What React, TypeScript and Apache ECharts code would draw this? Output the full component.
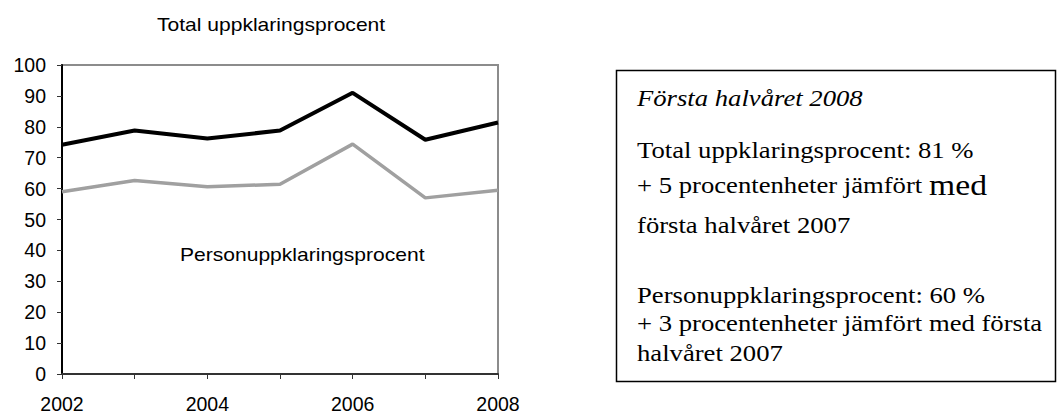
import React, { useEffect, useRef } from "react";
import * as echarts from "echarts";

const years = ["2002", "2003", "2004", "2005", "2006", "2007", "2008"];
const totalValues = [74.2, 78.8, 76.2, 78.8, 91, 75.8, 81.4];
const personValues = [59, 62.6, 60.6, 61.4, 74.4, 57, 59.5];
const chartTitle = "Total uppklaringsprocent";
const innerLabel = "Personuppklaringsprocent";
const boxHeading = "Första halvåret 2008";
const boxLines = [
  "Total uppklaringsprocent: 81 %",
  "första halvåret 2007",
  "Personuppklaringsprocent: 60 %",
  "+ 3 procentenheter jämfört med första",
  "halvåret 2007",
];

export default function App() {
  const ref = useRef<HTMLDivElement>(null);
  useEffect(() => {
    document.body.style.margin = "0";
    const chart = echarts.init(ref.current!, null, { renderer: "svg" });
    const serif = "Liberation Serif";
    const sans = "Liberation Sans";
    const sx = 1.16;
    const serifText = (text: string, y: number, extra: any = {}) => ({
      type: "text",
      x: 637,
      y,
      scaleX: sx,
      style: {
        text,
        fontFamily: serif,
        fontSize: 23,
        fill: "#000",
        textVerticalAlign: "middle",
        ...extra,
      },
    });
    chart.setOption({
      animation: false,
      grid: {
        left: 62,
        top: 65,
        width: 436,
        height: 310,
        show: true,
        borderColor: "#8c8c8c",
        borderWidth: 2,
      },
      xAxis: {
        type: "category",
        data: years,
        boundaryGap: false,
        axisLine: { lineStyle: { color: "#333", width: 2 } },
        axisTick: { show: true, inside: false, length: 5, lineStyle: { color: "#333" }, interval: 0 },
        axisLabel: { interval: 1, color: "#000", fontFamily: sans, fontSize: 19.5, margin: 20 },
        splitLine: { show: false },
      },
      yAxis: {
        type: "value",
        min: 0,
        max: 100,
        interval: 10,
        axisLine: { show: true, lineStyle: { color: "#000", width: 2 } },
        axisTick: { show: true, length: 5, lineStyle: { color: "#333" } },
        axisLabel: { color: "#000", fontFamily: sans, fontSize: 19.5, margin: 16 },
        splitLine: { show: false },
      },
      series: [
        {
          type: "line",
          data: totalValues,
          symbol: "none",
          lineStyle: { color: "#000", width: 4 },
        },
        {
          type: "line",
          data: personValues,
          symbol: "none",
          lineStyle: { color: "#a0a0a0", width: 3.5 },
        },
      ],
      graphic: [
        {
          type: "text",
          x: 157,
          y: 25,
          scaleX: 1.17,
          style: { text: chartTitle, fontFamily: sans, fontSize: 18, fill: "#000", textVerticalAlign: "middle" },
        },
        {
          type: "text",
          x: 180,
          y: 255,
          scaleX: 1.17,
          style: { text: innerLabel, fontFamily: sans, fontSize: 18, fill: "#000", textVerticalAlign: "middle" },
        },
        {
          type: "rect",
          shape: { x: 616.5, y: 70.5, width: 439, height: 311 },
          style: { fill: "#fff", stroke: "#000", lineWidth: 1.5 },
        },
        serifText(boxHeading, 98, { fontStyle: "italic" }),
        serifText(boxLines[0], 150),
        serifText("+ 5 procentenheter jämfört {big|med}", 185, {
          rich: { big: { fontFamily: serif, fontSize: 29, fill: "#000" } },
        }),
        serifText(boxLines[1], 225),
        serifText(boxLines[2], 295),
        serifText(boxLines[3], 323),
        serifText(boxLines[4], 353),
      ],
    });
    return () => chart.dispose();
  }, []);
  return <div ref={ref} style={{ width: 1058, height: 414 }} />;
}
